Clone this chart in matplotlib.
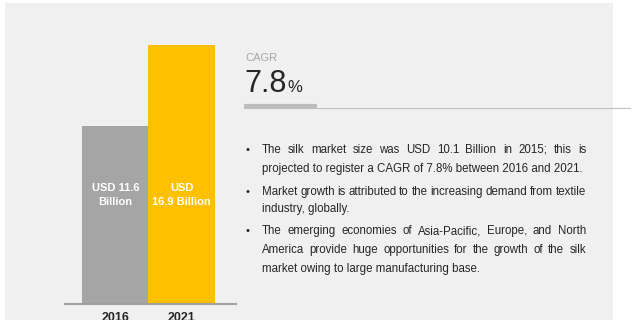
import matplotlib
matplotlib.use("Agg")
import matplotlib.pyplot as plt
from matplotlib.patches import Rectangle
from matplotlib.lines import Line2D

# data
years = ["2016", "2021"]
market_size = [11.6, 16.9]  # USD billion
bar_labels = ["USD 11.6\nBillion", "USD\n16.9 Billion"]
bar_colors = ["#a5a5a5", "#ffc000"]
cagr = 7.8

# bullet text, one list of lines per bullet (last line of each is not justified)
bullets = [
    ["The silk market size was USD 10.1 Billion in 2015; this is",
     "projected to register a CAGR of 7.8% between 2016 and 2021."],
    ["Market growth is attributed to the increasing demand from textile",
     "industry, globally."],
    ["The emerging economies of Asia-Pacific, Europe, and North",
     "America provide huge opportunities for the growth of the silk",
     "market owing to large manufacturing base."],
]
line_y = [150, 169, 192, 209, 231, 250, 269]

W, H = 640, 320
BODY_FONT = ["Liberation Sans", "DejaVu Sans"]


def fx(px):
    return px / W


def fy(py):
    return 1 - py / H


def draw_line(fig, renderer, text, x0, x1, py, justify, size):
    """Draw one line of text between x0 and x1 (pixels), justified if asked."""
    if not justify:
        fig.text(fx(x0), fy(py), text, fontsize=size, family=BODY_FONT,
                 color="#262626", va="center", ha="left")
        return
    words = text.split()
    objs = [fig.text(0, fy(py), w, fontsize=size, family=BODY_FONT,
                     color="#262626", va="center", ha="left") for w in words]
    widths = [o.get_window_extent(renderer).width for o in objs]
    gap = (x1 - x0 - sum(widths)) / (len(words) - 1)
    x = x0
    for o, w in zip(objs, widths):
        o.set_x(fx(x))
        x += w + gap


def main():
    fig = plt.figure(figsize=(6.4, 3.2), dpi=100)
    fig.patch.set_facecolor("white")
    fig.patches.append(Rectangle((fx(5), 0), fx(613 - 5), fy(3), transform=fig.transFigure,
                                 facecolor="#f0f0f0", edgecolor="none", zorder=-5))

    # bar chart area: baseline 65..236 px, bottom at 304, 16.9 at 45
    left, right, bottom, top = 65, 236, 304, 45
    ax = fig.add_axes([fx(left), fy(bottom), fx(right - left), (bottom - top) / H])
    ax.set_facecolor("none")
    x = list(range(len(years)))
    ax.bar(x, market_size, width=1.0, color=bar_colors)
    unit = (148 - 82)  # px per bar
    ax.set_xlim(-0.5 - (82 - left) / unit, 1.5 + (right - 215) / unit)
    ax.set_ylim(0, max(market_size))
    for s in ["top", "left", "right"]:
        ax.spines[s].set_visible(False)
    ax.spines["bottom"].set_color("#a0a0a0")
    ax.spines["bottom"].set_linewidth(1.5)
    ax.set_yticks([])
    ax.set_xticks(x)
    ax.set_xticklabels(years, fontsize=9, fontweight="bold", color="#262626", family=BODY_FONT)
    ax.tick_params(axis="x", length=0, pad=6)
    for xi, lab in zip(x, bar_labels):
        ax.text(xi, 7.1, lab, ha="center", va="center", color="white", fontsize=8,
                fontweight="bold", family=BODY_FONT, linespacing=1.55)

    # CAGR block
    fig.text(fx(245), fy(58), "CAGR", fontsize=8, color="#a6a6a6", family=BODY_FONT,
             va="center", ha="left")
    t = fig.text(fx(244), fy(92), f"{cagr}", fontsize=22, color="#262626", family=BODY_FONT,
                 va="baseline", ha="left")
    renderer = fig.canvas.get_renderer()
    w = t.get_window_extent(renderer).width
    fig.text(fx(244 + w + 1), fy(92), "%", fontsize=12, color="#262626", family=BODY_FONT,
             va="baseline", ha="left")
    fig.add_artist(Line2D([fx(244), fx(630)], [fy(108), fy(108)], transform=fig.transFigure,
                          color="#c0c0c0", lw=0.8))
    fig.add_artist(Line2D([fx(244), fx(317)], [fy(106), fy(106)], transform=fig.transFigure,
                          color="#bdbdbd", lw=3, solid_capstyle="butt"))

    # bullets
    i = 0
    for para in bullets:
        fig.text(fx(245), fy(line_y[i]), "•", fontsize=8, color="#262626",
                 family=BODY_FONT, va="center", ha="left")
        for j, line in enumerate(para):
            draw_line(fig, renderer, line, 262, 586, line_y[i], j < len(para) - 1, 8.3)
            i += 1

    fig.savefig("out.png", dpi=100)


if __name__ == "__main__":
    main()
